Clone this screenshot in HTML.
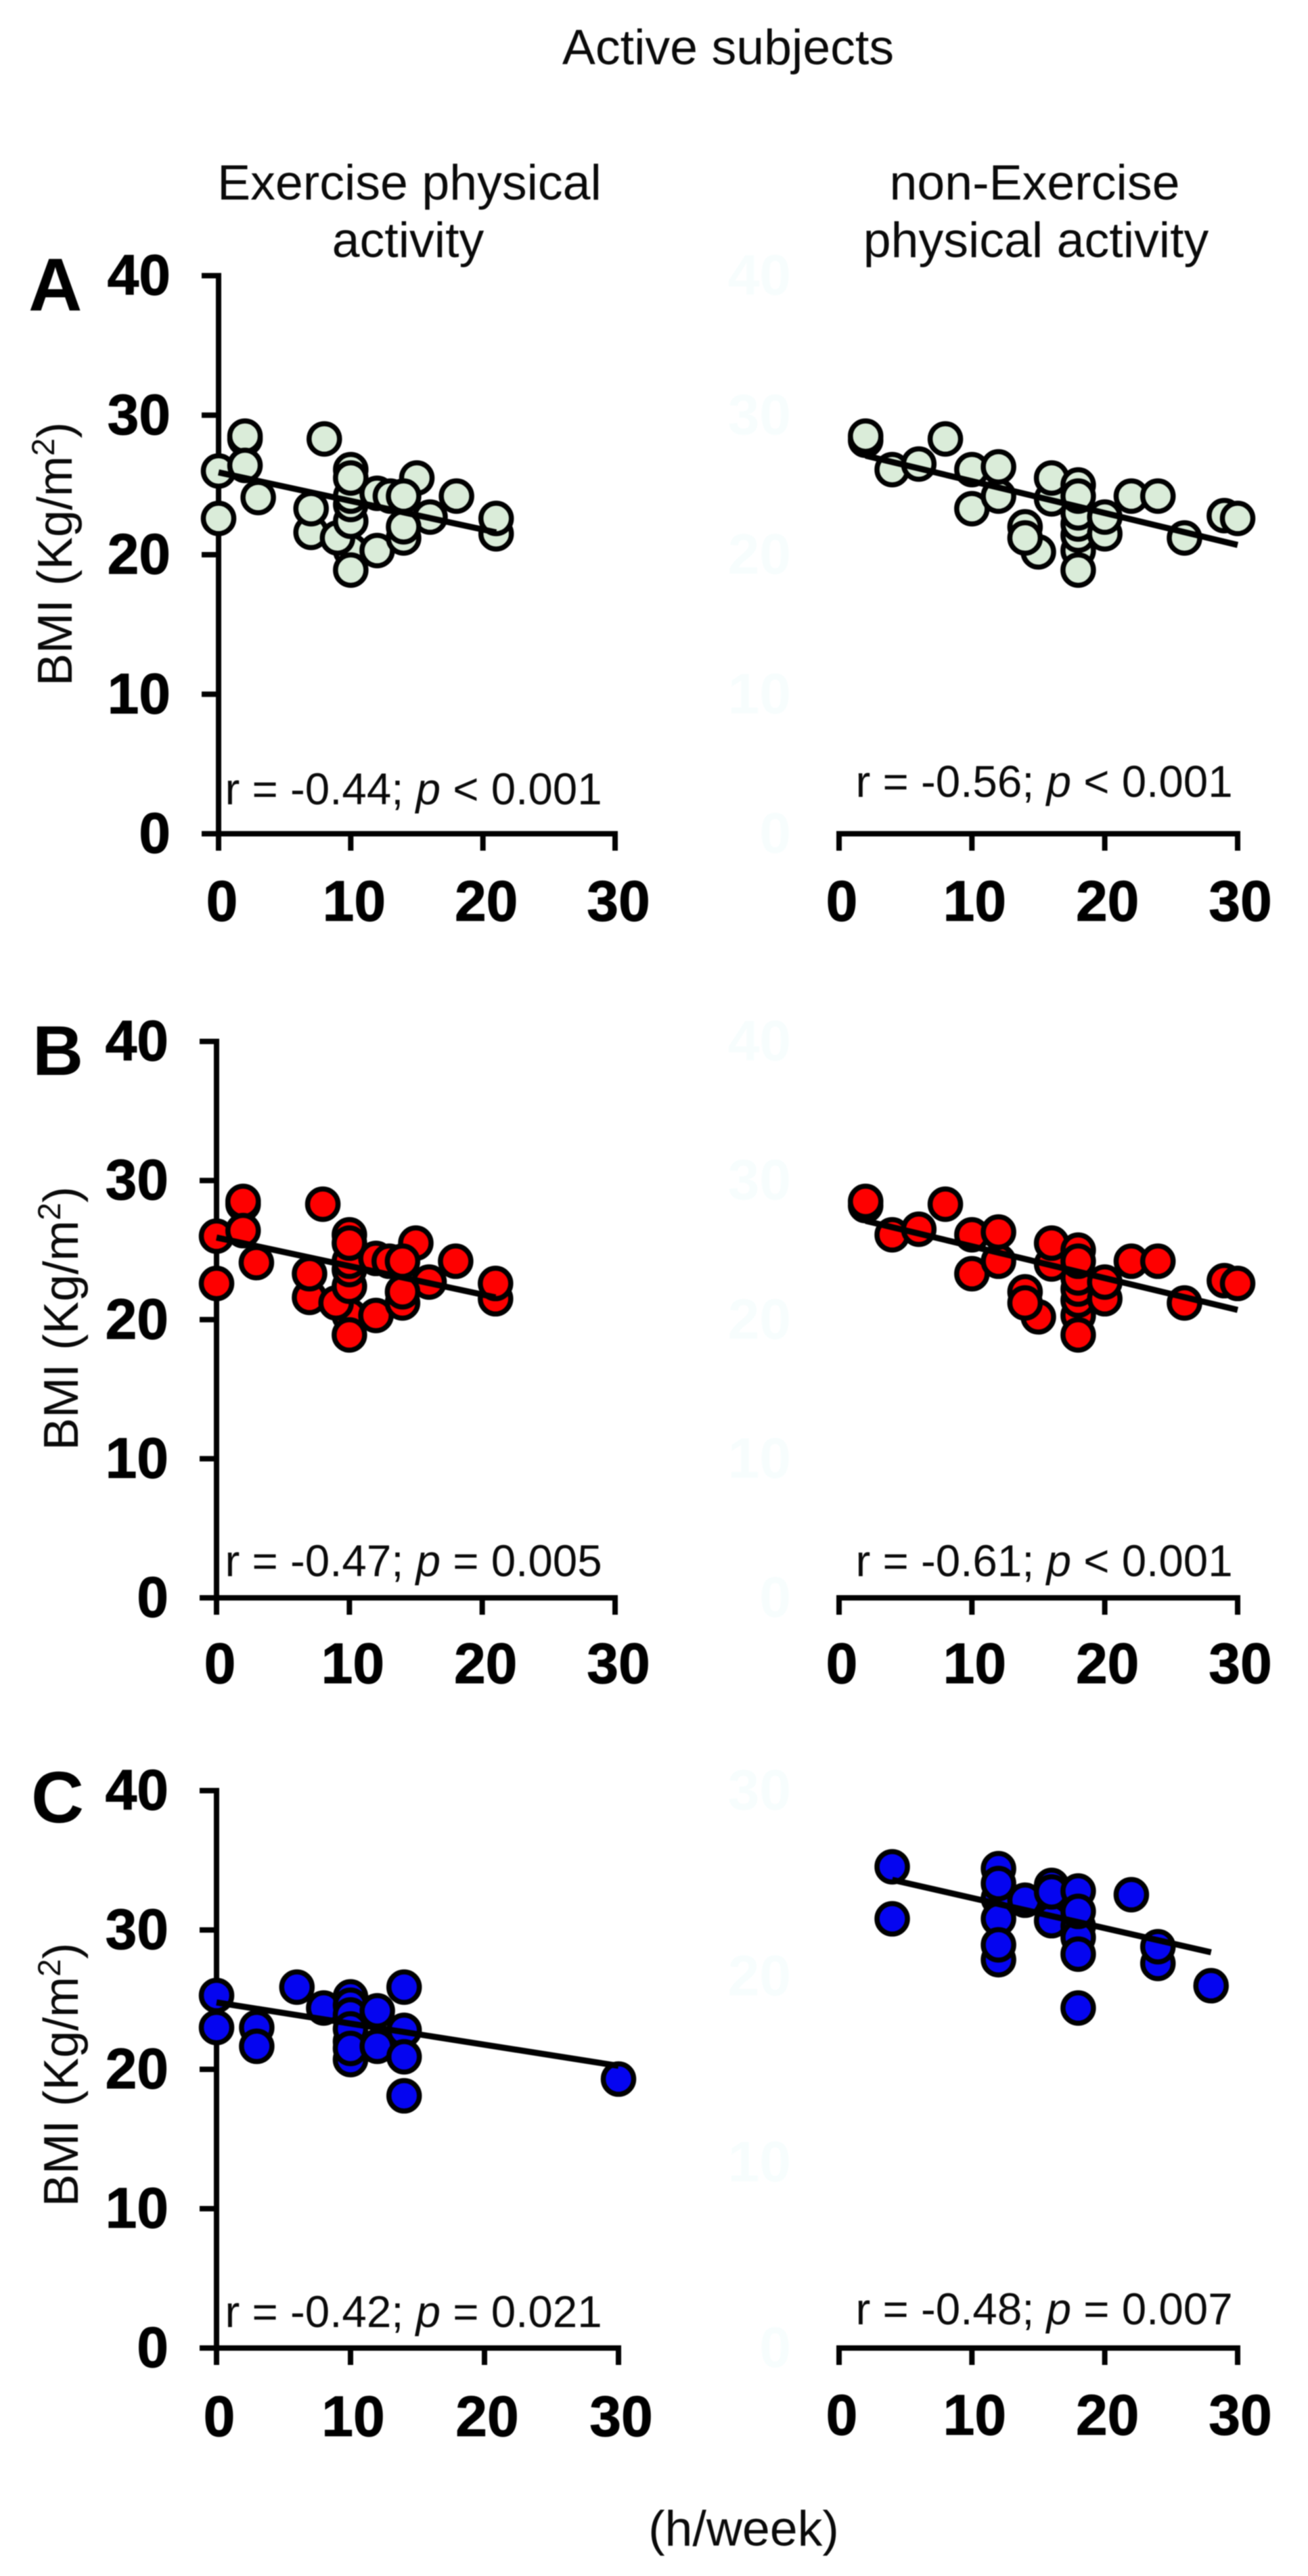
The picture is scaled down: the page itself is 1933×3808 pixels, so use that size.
<!DOCTYPE html>
<html lang="en">
<head>
<meta charset="utf-8">
<title>Active subjects: BMI vs physical activity</title>
<style>
  html, body { margin: 0; padding: 0; background: #ffffff; }
  svg { display: block; filter: blur(0.8px); }
  text { font-family: "Liberation Sans", sans-serif; fill: #0a0a0a; }
  .hd { font-size: 73.5px; }
  .ytitle { font-size: 72px; }
  .stat { font-size: 65.5px; }
  .panel { font-weight: bold; fill: #000; }
  .tick { font-size: 84px; font-weight: bold; fill: #000; stroke: #000; stroke-width: 1px; }
  .ghost { font-size: 84px; font-weight: bold; fill: #f7fdfd; }
</style>
</head>
<body>
<svg id="figure" xmlns="http://www.w3.org/2000/svg" width="1933" height="3808" viewBox="0 0 1933 3808">
  <rect x="0" y="0" width="1933" height="3808" fill="#ffffff"/>
  <text class="hd" x="1076" y="95" text-anchor="middle">Active subjects</text>
  <text class="hd" x="605" y="295" text-anchor="middle">Exercise physical</text>
  <text class="hd" x="603" y="380" text-anchor="middle">activity</text>
  <text class="hd" x="1529" y="295" text-anchor="middle">non-Exercise</text>
  <text class="hd" x="1531" y="380" text-anchor="middle">physical activity</text>

  <text class="panel" font-size="110" x="42" y="459">A</text>
  <text class="panel" font-size="104" x="48" y="1589">B</text>
  <text class="panel" font-size="108" x="46" y="2694">C</text>

  <text class="ytitle" transform="translate(106 1014) rotate(-90)">BMI (Kg/m<tspan font-size="47" dy="-26">2</tspan><tspan dy="26">)</tspan></text>
  <text class="ytitle" transform="translate(115 2144) rotate(-90)">BMI (Kg/m<tspan font-size="47" dy="-26">2</tspan><tspan dy="26">)</tspan></text>
  <text class="ytitle" transform="translate(115 3262) rotate(-90)">BMI (Kg/m<tspan font-size="47" dy="-26">2</tspan><tspan dy="26">)</tspan></text>

  <text class="stat" x="332.5" y="1189">r = -0.44; <tspan font-style="italic">p</tspan> &lt; 0.001</text>
  <text class="stat" x="1264.5" y="1178">r = -0.56; <tspan font-style="italic">p</tspan> &lt; 0.001</text>
  <text class="stat" x="332.5" y="2330">r = -0.47; <tspan font-style="italic">p</tspan> = 0.005</text>
  <text class="stat" x="1264.5" y="2330">r = -0.61; <tspan font-style="italic">p</tspan> &lt; 0.001</text>
  <text class="stat" x="332.5" y="3440">r = -0.42; <tspan font-style="italic">p</tspan> = 0.021</text>
  <text class="stat" x="1264.5" y="3436">r = -0.48; <tspan font-style="italic">p</tspan> = 0.007</text>

  <text class="hd" x="1099" y="3763" text-anchor="middle">(h/week)</text>
  <g id="charts"></g>
</svg>

<script>
// ---- tick labels ----
const xTickLabels = [0, 10, 20, 30];
const yTickLabels = [0, 10, 20, 30, 40];
const yTickLabelsNonExerciseC = [0, 10, 20, 30];

// ---- panels A and B share the same subjects ----
const exerciseHours = [0, 0, 2, 2, 2, 3, 7, 7, 8, 10, 9, 10, 10, 10, 10, 10, 10, 12, 12, 13, 15, 16, 14, 14, 14, 18, 21, 21];
const exerciseBmi = [26.0, 22.6, 28.3, 28.5, 26.4, 24.1, 21.6, 23.3, 28.3, 20.3, 21.2, 22.4, 23.6, 24.2, 26.1, 25.5, 18.9, 24.4, 20.3, 24.2, 25.5, 22.7, 21.2, 22.0, 24.2, 24.2, 21.5, 22.6];
const exerciseFitHours = [0, 21];
const exerciseFitBmi = [25.9, 21.6];

const nonExerciseHours = [2, 2, 4, 6, 8, 10, 10, 12, 12, 15, 14, 14, 16, 16, 18, 18, 18, 18, 18, 18, 18, 20, 20, 22, 24, 26, 29, 30];
const nonExerciseBmi = [28.2, 28.5, 26.1, 26.5, 28.3, 26.1, 23.3, 24.2, 26.3, 20.2, 22.0, 21.2, 24.0, 25.5, 20.3, 21.4, 22.2, 23.0, 25.0, 24.2, 18.9, 21.5, 22.7, 24.2, 24.2, 21.2, 22.8, 22.6];
const nonExerciseFitHours = [2, 30];
const nonExerciseFitBmi = [27.1, 20.7];

// ---- panel C ----
const exerciseHoursC = [0, 0, 3, 3, 6, 8, 10, 10, 10, 10, 10, 10, 10, 12, 12, 14, 14, 14, 14, 30];
const exerciseBmiC = [25.3, 23.0, 23.0, 21.65, 25.9, 24.4, 25.2, 24.6, 23.9, 22.0, 20.7, 22.9, 21.5, 24.2, 21.65, 25.9, 22.8, 20.9, 18.1, 19.3];
const exerciseFitHoursC = [0, 30];
const exerciseFitBmiC = [24.8, 20.25];

const nonExerciseHoursC = [4, 4, 12, 12, 12, 12, 12, 12, 14, 16, 16, 16, 18, 18, 18, 18, 18, 18, 22, 24, 24, 28];
const nonExerciseBmiC = [25.9, 23.1, 25.8, 24.2, 20.9, 23.1, 21.7, 25.0, 24.1, 24.9, 23.0, 24.55, 24.6, 22.7, 22.1, 21.2, 23.5, 18.3, 24.4, 20.7, 21.6, 19.5];
const nonExerciseFitHoursC = [4, 28];
const nonExerciseFitBmiC = [25.2, 21.3];

const SVG_NS = 'http://www.w3.org/2000/svg';
const chartsRoot = document.getElementById('charts');

function linear(d0, d1, r0, r1) {
  return function (v) { return r0 + (v - d0) * (r1 - r0) / (d1 - d0); };
}

function make(parent, tag, attrs) {
  const el = document.createElementNS(SVG_NS, tag);
  for (const k in attrs) el.setAttribute(k, attrs[k]);
  parent.appendChild(el);
  return el;
}

function drawPanel(cfg) {
  const g = make(chartsRoot, 'g', {});
  
  

  const xMaxV = xTickLabels[xTickLabels.length - 1];
  const yMaxV = cfg.yLabels[cfg.yLabels.length - 1];
  const xScale = linear(0, xMaxV, cfg.x0, cfg.x30);
  const yScale = linear(0, yMaxV, cfg.y0, cfg.yTop);
  const axisStyle = { stroke: '#000', 'stroke-width': 8, fill: 'none', 'stroke-linecap': 'square' };

  // x axis
  const xAxis = make(g, 'line', Object.assign({ x1: cfg.showY ? cfg.x0 - 21 : cfg.x0, y1: cfg.y0, x2: xScale(xMaxV), y2: cfg.y0 }, axisStyle));
  
  

  xTickLabels.forEach(function (v) {
    const t = make(g, 'line', Object.assign({ x1: xScale(v), y1: cfg.y0, x2: xScale(v), y2: cfg.y0 + 21 }, axisStyle));
    
    
    const lab = make(g, 'text', { class: 'tick', x: xScale(v) + cfg.xLabelShift, y: cfg.xLabelY, 'text-anchor': 'middle' });
    
    
    lab.textContent = v;
  });

  // y axis (left column only; right column keeps only its near-white labels)
  if (cfg.showY) {
    const yAxis = make(g, 'line', Object.assign({ x1: cfg.x0, y1: yScale(yMaxV), x2: cfg.x0, y2: cfg.y0 + 21 }, axisStyle));
    
    
  }
  cfg.yLabels.forEach(function (v) {
    if (cfg.showY) {
      const t = make(g, 'line', Object.assign({ x1: cfg.x0 - 21, y1: yScale(v), x2: cfg.x0, y2: yScale(v) }, axisStyle));
      
      
    }
    const lab = make(g, 'text', { class: cfg.showY ? 'tick' : 'ghost', x: cfg.yLabelX, y: yScale(v) + 28, 'text-anchor': 'end' });
    
    
    lab.textContent = v;
  });

  // points
  cfg.hours.forEach(function (h, i) {
    const c = make(g, 'circle', { cx: xScale(h), cy: yScale(cfg.bmi[i]), r: 22.5, fill: cfg.color, stroke: '#000', 'stroke-width': 7.5 });
    
    
  });

  // regression line
  const fit = make(g, 'line', {
    x1: xScale(cfg.fitHours[0]), y1: yScale(cfg.fitBmi[0]),
    x2: xScale(cfg.fitHours[1]), y2: yScale(cfg.fitBmi[1]),
    stroke: '#000', 'stroke-width': 9
  });
  
  
}

const GREEN = '#daecd9', RED = '#fe0000', BLUE = '#0505f0';

drawPanel({ x0: 323, x30: 909, y0: 1232.5, yTop: 407.5, yLabels: yTickLabels, showY: true, yLabelX: 252, xLabelY: 1361, xLabelShift: 5,
  color: GREEN, hours: exerciseHours, bmi: exerciseBmi, fitHours: exerciseFitHours, fitBmi: exerciseFitBmi });
drawPanel({ x0: 1240, x30: 1829, y0: 1232.5, yTop: 407.5, yLabels: yTickLabels, showY: false, yLabelX: 1169, xLabelY: 1361, xLabelShift: 4,
  color: GREEN, hours: nonExerciseHours, bmi: nonExerciseBmi, fitHours: nonExerciseFitHours, fitBmi: nonExerciseFitBmi });

drawPanel({ x0: 320, x30: 909, y0: 2362, yTop: 1539.5, yLabels: yTickLabels, showY: true, yLabelX: 249, xLabelY: 2488, xLabelShift: 5,
  color: RED, hours: exerciseHours, bmi: exerciseBmi, fitHours: exerciseFitHours, fitBmi: exerciseFitBmi });
drawPanel({ x0: 1240, x30: 1829, y0: 2362, yTop: 1539.5, yLabels: yTickLabels, showY: false, yLabelX: 1169, xLabelY: 2488, xLabelShift: 4,
  color: RED, hours: nonExerciseHours, bmi: nonExerciseBmi, fitHours: nonExerciseFitHours, fitBmi: nonExerciseFitBmi });

drawPanel({ x0: 320, x30: 914, y0: 3471, yTop: 2647, yLabels: yTickLabels, showY: true, yLabelX: 249, xLabelY: 3601, xLabelShift: 4,
  color: BLUE, hours: exerciseHoursC, bmi: exerciseBmiC, fitHours: exerciseFitHoursC, fitBmi: exerciseFitBmiC });
drawPanel({ x0: 1240, x30: 1829, y0: 3471, yTop: 2647, yLabels: yTickLabelsNonExerciseC, showY: false, yLabelX: 1169, xLabelY: 3599, xLabelShift: 4,
  color: BLUE, hours: nonExerciseHoursC, bmi: nonExerciseBmiC, fitHours: nonExerciseFitHoursC, fitBmi: nonExerciseFitBmiC });
</script>
</body>
</html>
